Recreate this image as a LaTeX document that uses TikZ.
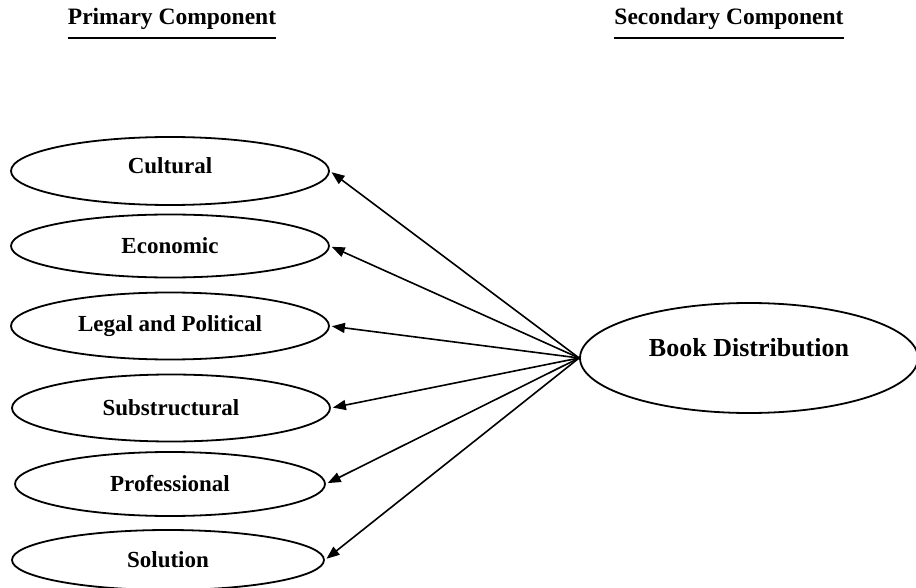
\documentclass[tikz,border=0pt]{standalone}
\usepackage{fontspec}
\setmainfont{Liberation Serif}
\usepackage{tikz}
\usetikzlibrary{shapes,arrows,calc,arrows.meta}
\usetikzlibrary{positioning}

\begin{document}
\begin{tikzpicture}[x=1pt,y=-1pt,
    comp/.style={draw, ellipse, line width=1.8pt, minimum width=318pt, minimum height=65pt,
      inner sep=0pt, font=\fontsize{23}{25}\selectfont\bfseries},
    head/.style={inner sep=0pt, font=\fontsize{23.5}{25}\selectfont\bfseries},
    link/.style={line width=1.6pt, -{Triangle[length=13pt,width=10pt]}, shorten >=2pt}]

    \useasboundingbox (0,0) rectangle (916,588);

    % headings
    \node[head] (prim) at (172,19) {Primary Component};
    \node[head] (sec) at (729,19) {Secondary Component};
    \draw[line width=2.2pt] ([yshift=-8pt]prim.south west) -- ([yshift=-8pt]prim.south east);
    \draw[line width=2.2pt] ([yshift=-8pt]sec.south west) -- ([yshift=-8pt]sec.south east);

    % primary components
    \node[comp, minimum height=68pt, text height=16pt, text depth=11pt] (cultural) at (170,171) {Cultural};
    \node[comp, minimum height=63pt] (economic) at (170,246) {Economic};
    \node[comp, minimum height=67pt] (legal) at (170,326) {Legal and Political};
    \node[comp, minimum height=67pt] (substructural) at (171,408) {Substructural};
    \node[comp, minimum height=64pt, minimum width=310pt] (professional) at (170,484) {Professional};
    \node[comp, minimum height=60pt, minimum width=312pt] (solution) at (168,560) {Solution};

    % secondary component
    \node[comp, minimum width=338pt, minimum height=110pt, text height=18pt, text depth=21pt,
      font=\fontsize{26}{28}\selectfont\bfseries] (book) at (749,358) {Book Distribution};

    \foreach \c in {cultural,economic,legal,substructural,professional,solution}
      \draw[link] (book.west) -- (\c.east);
\end{tikzpicture}
\end{document}
